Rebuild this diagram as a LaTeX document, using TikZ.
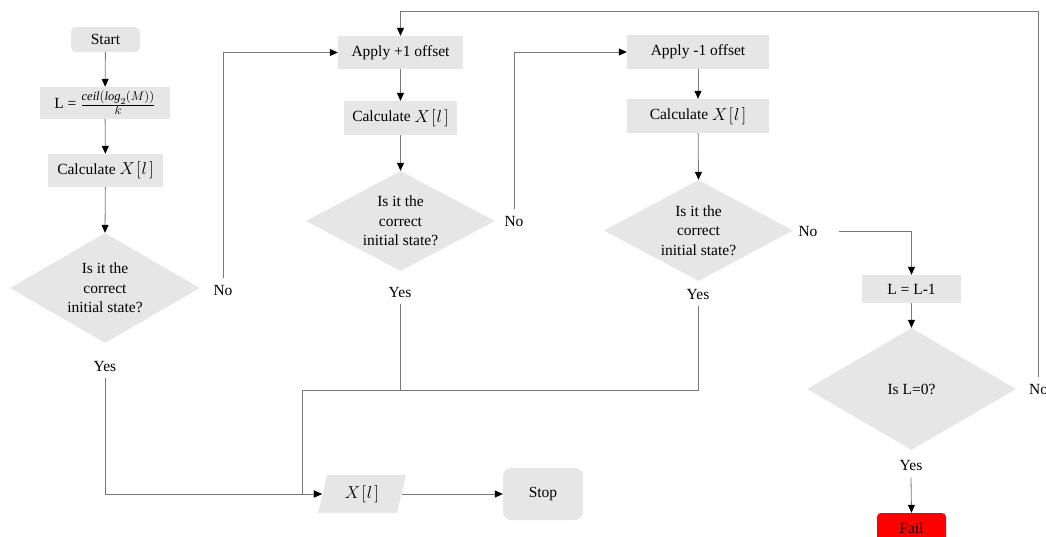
\documentclass[tikz,border=0pt]{standalone}
\usepackage{fontspec}
\usepackage{graphicx}
\setmainfont{Liberation Serif}
\usetikzlibrary{arrows.meta,shapes.geometric,calc}
\definecolor{boxgray}{RGB}{230,230,230}
\definecolor{linegray}{RGB}{120,120,120}
\definecolor{failred}{RGB}{255,0,0}
\newcommand{\Xl}{\raisebox{-0.5pt}{\scalebox{1.2}{$X\mkern1mu[\mkern1mu l\mkern2mu]$}}}
\begin{document}
\begin{tikzpicture}[x=1pt,y=-1pt,
  every node/.style={font=\fontsize{15.5}{19.5}\selectfont},
  box/.style={fill=boxgray,draw=none,inner sep=0pt,align=center},
  rbox/.style={box,rounded corners=5pt},
  dia/.style={diamond,fill=boxgray,draw=none,inner sep=0pt},
  lbl/.style={inner sep=7pt},
  conn/.style={draw=linegray,line width=0.8pt,-{Triangle[width=7pt,length=8pt,color=black]}},
  seg/.style={draw=linegray,line width=0.8pt}]
\useasboundingbox (0,0) rectangle (1046,536);

% column 1
\node[rbox,minimum width=69,minimum height=25] (start) at (105.5,39.5) {Start};
\node[box,minimum width=130,minimum height=32] (form) at (105,103) {L = \scalebox{1.15}{$\frac{\mathit{ceil}(\mathit{log}_2(M))}{k}$}};
\node[box,minimum width=115,minimum height=33] (calc1) at (105.5,170.5) {Calculate \Xl};
\node[dia,minimum width=190,minimum height=110] (d1) at (105,288) {};
\node[align=center] (t1) at (d1) {Is it the\\correct\\initial state?};
\node[lbl] (no1) at (223,290) {No};
\node[lbl] (yes1) at (105,366) {Yes};

% column 2
\node[box,minimum width=125,minimum height=33] (apply1) at (400.5,52.5) {Apply +1 offset};
\node[box,minimum width=113,minimum height=34] (calc2) at (400.5,118) {Calculate \Xl};
\node[dia,minimum width=189,minimum height=100] (d2) at (400.5,221) {};
\node[align=center] (t2) at (d2) {Is it the\\correct\\initial state?};
\node[lbl] (no2) at (514,221) {No};
\node[lbl] (yes2) at (400,292) {Yes};

% column 3
\node[box,minimum width=142,minimum height=34] (apply2) at (698,52) {Apply -1 offset};
\node[box,minimum width=142,minimum height=34] (calc3) at (698,116) {Calculate \Xl};
\node[dia,minimum width=189,minimum height=101] (d3) at (698.5,230.5) {};
\node[align=center] (t3) at (d3) {Is it the\\correct\\initial state?};
\node[lbl] (no3) at (808,231) {No};
\node[lbl] (yes3) at (698,294) {Yes};

% column 4
\node[box,minimum width=99,minimum height=28] (lm1) at (911.5,289) {L = L-1};
\node[dia,minimum width=209,minimum height=122] (d4) at (911.5,389) {};
\node (t4) at (d4) {Is L=0?};
\node[lbl,anchor=west] (no4) at (1022,389) {No};
\node[lbl] (yes4) at (911,465) {Yes};
\node[box,fill=failred,rounded corners=4pt,minimum width=69,minimum height=30] (fail) at (911.5,528) {Fail};

% output
\fill[boxgray] (318,513) -- (327,475) -- (406,475) -- (397,513) -- cycle;
\node[inner sep=0pt,minimum width=80,minimum height=38] (para) at (362,494) {\Xl};
\node[rbox,rounded corners=8pt,minimum width=80,minimum height=52] (stop) at (543,494) {Stop};

\coordinate (merge) at (302,390);
\coordinate (top) at (apply1.north |- 0,11);

% connectors
\draw[conn] (start) -- (form);
\draw[conn] (form) -- (calc1);
\draw[conn] (calc1) -- (d1.north);
\draw[conn] (no1.north) |- (apply1.west);
\draw[conn] (yes1.south) |- (para.west);

\draw[conn] (apply1) -- (calc2);
\draw[conn] (calc2) -- (d2.north);
\draw[conn] (no2.north) |- (apply2.west);
\draw[seg] (yes2.south) |- (merge);
\draw[seg] (yes3.south) |- (merge);
\draw[conn] (merge) |- (para.west);

\draw[conn] (apply2) -- (calc3);
\draw[conn] (calc3) -- (d3.north);
\draw[conn] ([xshift=14pt]no3.east) -| (lm1.north);

\draw[conn] (lm1) -- (d4.north);
\draw[conn] (yes4.south) -- (fail.north);
\draw[conn] (no4.north) |- (top) -- (apply1.north);

\draw[conn] (para.east) -- (stop.west);
\end{tikzpicture}
\end{document}
